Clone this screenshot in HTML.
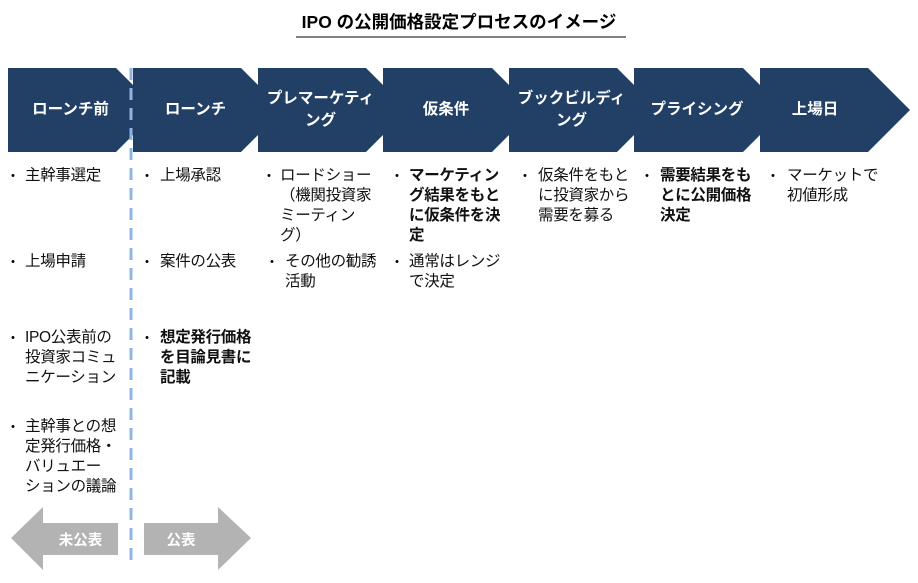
<!DOCTYPE html>
<html><head><meta charset="utf-8"><style>
body{margin:0;width:918px;height:583px;background:#fff;position:relative;overflow:hidden;font-family:"Liberation Sans","Noto Sans CJK JP",sans-serif;}
.t{position:absolute;font-size:15.5px;line-height:20px;color:#111;white-space:nowrap;letter-spacing:-0.3px}
.b{font-weight:bold;}
.bl{position:absolute;font-size:14px;line-height:20px;}
.h{position:absolute;color:#fff;font-weight:bold;font-size:15.5px;line-height:22px;text-align:center;white-space:nowrap}
</style></head><body>
<svg width="918" height="583" style="position:absolute;left:0;top:0">
<g fill="#223f66">
<polygon points="8,68 116,68 158,110 116,152 8,152"/>
<polygon points="133,68 241,68 283,110 241,152 133,152"/>
<polygon points="258,68 366,68 408,110 366,152 258,152"/>
<polygon points="383,68 492,68 534,110 492,152 383,152"/>
<polygon points="509,68 617,68 659,110 617,152 509,152"/>
<polygon points="634,68 743,68 785,110 743,152 634,152"/>
<polygon points="760,68 868,68 910,110 868,152 760,152"/>
</g>
<line x1="131" y1="68" x2="131" y2="562" stroke="#8eb4e3" stroke-width="3" stroke-dasharray="12,8"/>
<polygon fill="#b3b3b3" points="11,538 43,507 43,523 118,523 118,555 43,555 43,570"/>
<polygon fill="#b3b3b3" points="144,523 218,523 218,507 251,538 218,570 218,555 144,555"/>
<line x1="296" y1="37" x2="626" y2="37" stroke="#000" stroke-width="1"/>
</svg>
<div style="position:absolute;left:0;width:918px;top:9px;text-align:center;font-weight:bold;font-size:17.5px;">IPO の公開価格設定プロセスのイメージ</div>
<div class="h" style="left:8px;width:125px;top:99px">ローンチ前</div>
<div class="h" style="left:133px;width:125px;top:99px">ローンチ</div>
<div class="h" style="left:258px;width:125px;top:88px">プレマーケティ<br>ング</div>
<div class="h" style="left:383px;width:126px;top:99px">仮条件</div>
<div class="h" style="left:509px;width:125px;top:88px">ブックビルディ<br>ング</div>
<div class="h" style="left:634px;width:126px;top:99px">プライシング</div>
<div class="h" style="left:760px;width:110px;top:99px">上場日</div>

<div class="bl" style="left:6px;top:166px">・</div><div class="t" style="left:25px;top:166px">主幹事選定</div>
<div class="bl" style="left:6px;top:252px">・</div><div class="t" style="left:25px;top:252px">上場申請</div>
<div class="bl" style="left:6px;top:328px">・</div><div class="t" style="left:25px;top:328px">IPO公表前の<br>投資家コミュ<br>ニケーション</div>
<div class="bl" style="left:6px;top:417px">・</div><div class="t" style="left:25px;top:417px">主幹事との想<br>定発行価格・<br>バリュエー<br>ションの議論</div>

<div class="bl" style="left:140px;top:166px">・</div><div class="t" style="left:160px;top:166px">上場承認</div>
<div class="bl" style="left:140px;top:252px">・</div><div class="t" style="left:160px;top:252px">案件の公表</div>
<div class="bl" style="left:140px;top:328px">・</div><div class="t b" style="left:160px;top:328px">想定発行価格<br>を目論見書に<br>記載</div>

<div class="bl" style="left:262px;top:166px">・</div><div class="t" style="left:280px;top:166px">ロードショー<br>（機関投資家<br>ミーティン<br>グ）</div>
<div class="bl" style="left:265px;top:252px">・</div><div class="t" style="left:285px;top:252px">その他の勧誘<br>活動</div>

<div class="bl" style="left:390px;top:166px">・</div><div class="t b" style="left:409px;top:166px">マーケティン<br>グ結果をもと<br>に仮条件を決<br>定</div>
<div class="bl" style="left:390px;top:252px">・</div><div class="t" style="left:409px;top:252px">通常はレンジ<br>で決定</div>

<div class="bl" style="left:518px;top:166px">・</div><div class="t" style="left:538px;top:166px">仮条件をもと<br>に投資家から<br>需要を募る</div>
<div class="bl" style="left:640px;top:166px">・</div><div class="t b" style="left:660px;top:166px">需要結果をも<br>とに公開価格<br>決定</div>
<div class="bl" style="left:766px;top:166px">・</div><div class="t" style="left:787px;top:166px">マーケットで<br>初値形成</div>

<div style="position:absolute;left:43px;width:75px;top:529px;text-align:center;color:#fff;font-weight:bold;font-size:14.5px">未公表</div>
<div style="position:absolute;left:144px;width:74px;top:529px;text-align:center;color:#fff;font-weight:bold;font-size:14.5px">公表</div>
</body></html>
